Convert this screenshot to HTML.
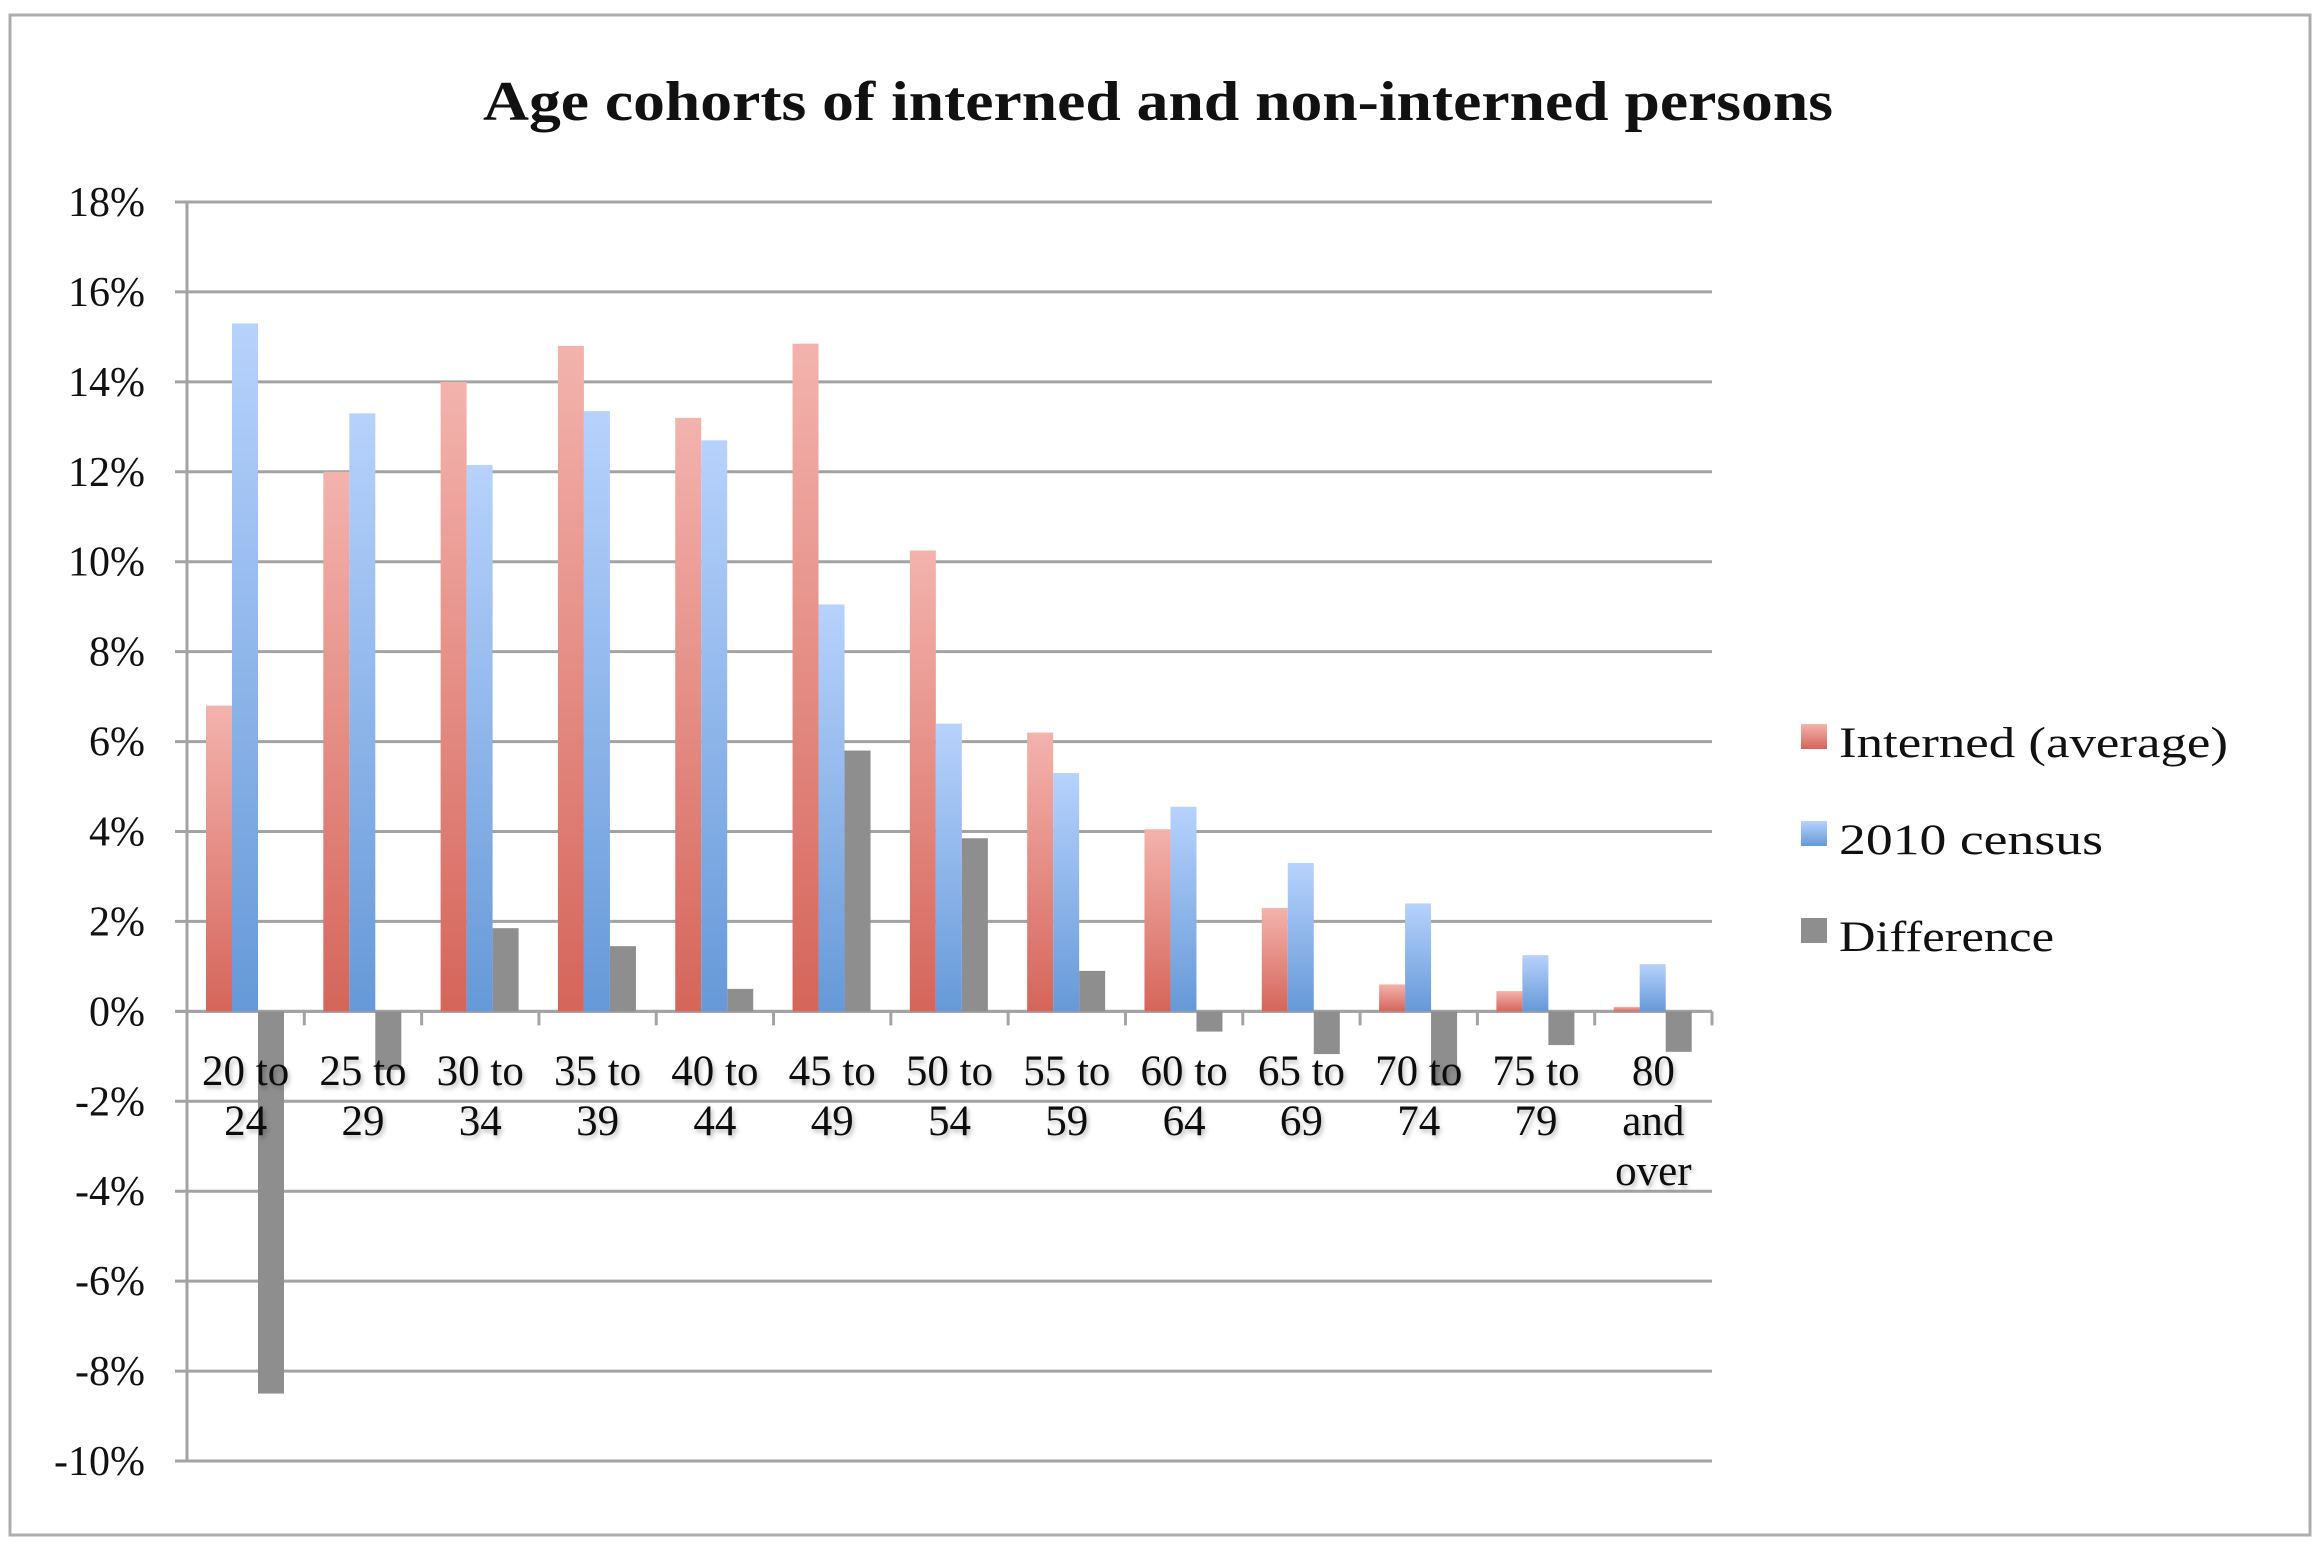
<!DOCTYPE html>
<html><head><meta charset="utf-8"><style>
html,body{margin:0;padding:0;background:#fff;}
svg{display:block;}
text{font-family:"Liberation Serif",serif;fill:#111;}
</style></head>
<body>
<svg id="chart" width="2320" height="1544" viewBox="0 0 2320 1544" xmlns="http://www.w3.org/2000/svg">
<defs>
<linearGradient id="gRed" x1="0" y1="0" x2="0" y2="1"><stop offset="0" stop-color="#f3b3ad"/><stop offset="1" stop-color="#d5655b"/></linearGradient>
<linearGradient id="gBlue" x1="0" y1="0" x2="0" y2="1"><stop offset="0" stop-color="#b7d2fc"/><stop offset="1" stop-color="#6699d8"/></linearGradient>
<filter id="sh" x="-20%" y="-20%" width="140%" height="160%"><feDropShadow dx="2" dy="3" stdDeviation="2" flood-color="#000" flood-opacity="0.25"/></filter>
</defs>
<rect x="10" y="15" width="2300" height="1520" fill="#fff" stroke="#adadad" stroke-width="3"/>
<text x="1158" y="120" text-anchor="middle" font-weight="bold" font-size="56" textLength="1350" lengthAdjust="spacingAndGlyphs">Age cohorts of interned and non-interned persons</text>
<g id="grid"></g>
<g id="bars"></g>
<g id="xlabels"></g>
<g id="legend"></g>
</svg>
<script>
const categories = [["20 to","24"],["25 to","29"],["30 to","34"],["35 to","39"],["40 to","44"],["45 to","49"],["50 to","54"],["55 to","59"],["60 to","64"],["65 to","69"],["70 to","74"],["75 to","79"],["80","and","over"]];
const interned = [6.8, 12.0, 14.0, 14.8, 13.2, 14.85, 10.25, 6.2, 4.05, 2.3, 0.6, 0.45, 0.1];
const census = [15.3, 13.3, 12.15, 13.35, 12.7, 9.05, 6.4, 5.3, 4.55, 3.3, 2.4, 1.25, 1.05];
const difference = [-8.5, -1.3, 1.85, 1.45, 0.5, 5.8, 3.85, 0.9, -0.45, -0.95, -1.65, -0.75, -0.9];
const yTicks = [18, 16, 14, 12, 10, 8, 6, 4, 2, 0, -2, -4, -6, -8, -10];
const seriesNames = ["Interned (average)", "2010 census", "Difference"];

const NS = "http://www.w3.org/2000/svg";
const X0 = 187, X1 = 1712, YMAX = 18, YMIN = -10, YT = 202, YB = 1461;
const catW = (X1 - X0) / categories.length;
function y(v){ return YT + (YMAX - v) / (YMAX - YMIN) * (YB - YT); }
function xCat(i){ return X0 + i * catW; }
function mk(tag, attrs, parent){ const e = document.createElementNS(NS, tag); for (const k in attrs) e.setAttribute(k, attrs[k]); parent.appendChild(e); return e; }

const grid = document.getElementById('grid');
yTicks.forEach(t => {
  const l = mk('line', {x1: X0 - 12, x2: X1, y1: y(t), y2: y(t), stroke: '#a3a3a3', 'stroke-width': 3}, grid);
  
  
  const tx = mk('text', {x: 145, y: y(t) + 14, 'text-anchor': 'end', 'font-size': 42}, grid);
  tx.textContent = t + '%';
  
  
});
const ax = mk('line', {x1: X0, x2: X0, y1: y(YMAX), y2: y(YMIN), stroke: '#a3a3a3', 'stroke-width': 3}, grid);


const zx = mk('line', {x1: X0 - 12, x2: X1, y1: y(0), y2: y(0), stroke: '#a3a3a3', 'stroke-width': 3}, grid);


for (let i = 0; i <= categories.length; i++) {
  const tk = mk('line', {x1: xCat(i), x2: xCat(i), y1: y(0), y2: y(0) + 14, stroke: '#a3a3a3', 'stroke-width': 3}, grid);
  
  
}

const bars = document.getElementById('bars');
const barW = 26, off = 19;
const series = [[interned, 'url(#gRed)', 'bar-interned'], [census, 'url(#gBlue)', 'bar-census'], [difference, '#8e8e8e', 'bar-difference']];
categories.forEach((c, i) => {
  series.forEach((s, j) => {
    const v = s[0][i];
    const top = Math.min(y(v), y(0)), h = Math.abs(y(v) - y(0));
    const r = mk('rect', {x: xCat(i) + off + j * barW, y: top, width: barW, height: h, fill: s[1]}, bars);
    
    
  });
});

const xl = document.getElementById('xlabels');
categories.forEach((c, i) => {
  const t = mk('text', {x: xCat(i) + catW / 2, y: 1085, 'text-anchor': 'middle', 'font-size': 43, filter: 'url(#sh)'}, xl);
  
  
  c.forEach((line, k) => {
    const ts = mk('tspan', {x: xCat(i) + catW / 2, y: 1085 + k * 50}, t);
    ts.textContent = line;
  });
});

const lg = document.getElementById('legend');
const lfill = ['url(#gRed)', 'url(#gBlue)', '#8e8e8e'];
const lwid = [389, 264, 215];
seriesNames.forEach((n, i) => {
  const by = 757 + i * 97;
  const sw = mk('rect', {x: 1801, y: by - 33, width: 26, height: 25, fill: lfill[i]}, lg);
  
  
  const t = mk('text', {x: 1839, y: by, 'font-size': 43, textLength: lwid[i], lengthAdjust: 'spacingAndGlyphs'}, lg);
  t.textContent = n;
  
  
});
</script>
</body></html>
